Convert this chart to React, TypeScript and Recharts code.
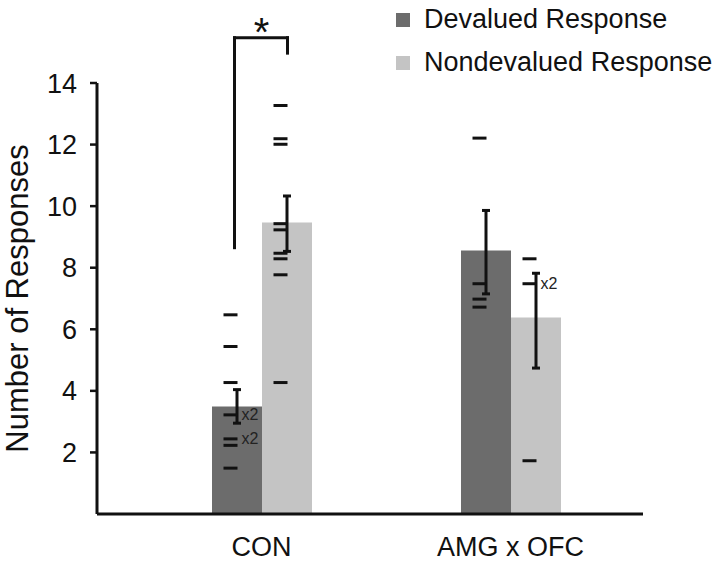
import {
  Bar,
  ComposedChart,
  ErrorBar,
  Legend,
  ReferenceDot,
  ReferenceLine,
  Scatter,
  XAxis,
  YAxis,
} from 'recharts';

const groups = ['CON', 'AMG x OFC'];
const devaluedMean = [3.49, 8.56];
const nondevaluedMean = [9.47, 6.38];
// [below, above] distance of the SEM whiskers
const devaluedSem = [[0.54, 0.55], [1.41, 1.3]];
const nondevaluedSem = [[0.94, 0.86], [1.64, 1.44]];

// individual animals, 'x2' marks two animals with the same count
const devaluedPoints = [
  { group: 'CON', value: 6.47 },
  { group: 'CON', value: 5.44 },
  { group: 'CON', value: 4.27 },
  { group: 'CON', value: 3.22, note: 'x2' },
  { group: 'CON', value: 2.44, note: 'x2' },
  { group: 'CON', value: 2.23 },
  { group: 'CON', value: 1.49 },
  { group: 'AMG x OFC', value: 12.21 },
  { group: 'AMG x OFC', value: 7.48 },
  { group: 'AMG x OFC', value: 6.98 },
  { group: 'AMG x OFC', value: 6.72 },
];
const nondevaluedPoints = [
  { group: 'CON', value: 13.27 },
  { group: 'CON', value: 12.19 },
  { group: 'CON', value: 12.01 },
  { group: 'CON', value: 9.43 },
  { group: 'CON', value: 9.23 },
  { group: 'CON', value: 8.47 },
  { group: 'CON', value: 8.29 },
  { group: 'CON', value: 7.77 },
  { group: 'CON', value: 4.27 },
  { group: 'AMG x OFC', value: 8.29 },
  { group: 'AMG x OFC', value: 7.48, note: 'x2' },
  { group: 'AMG x OFC', value: 1.73 },
];

const yTicks = [2, 4, 6, 8, 10, 12, 14];

// significance bracket between the two CON bars
const bracketGroup = 'CON';
const bracketY = { left: 8.65, right: 14.97, top: 15.47 };

const SERIES = [
  { key: 'devalued', label: 'Devalued Response', color: '#6c6c6c' },
  { key: 'nondevalued', label: 'Nondevalued Response', color: '#c4c4c4' },
];

const chartData = groups.map((group, i) => ({
  group,
  devalued: devaluedMean[i],
  nondevalued: nondevaluedMean[i],
  devaluedSem: devaluedSem[i],
  nondevaluedSem: nondevaluedSem[i],
}));

const INK = '#111';
const FONT = '"Liberation Sans", Arial, sans-serif';

function dashShape(offset: number) {
  return (props: any) => {
    const { cx, cy, payload } = props;
    const x = cx + offset;
    return (
      <g>
        <line x1={x - 13} x2={x + 1} y1={cy} y2={cy} stroke={INK} strokeWidth={3} />
        {payload?.note && (
          <text x={x + 5} y={cy} dy="0.35em" fontSize={16} fill="#222" fontFamily={FONT}>
            {payload.note}
          </text>
        )}
      </g>
    );
  };
}

// shifts a reference segment from the group centre onto the bars
function bracketShape(dx1: number, dx2: number) {
  return (p: any) => (
    <line x1={p.x1 + dx1} y1={p.y1} x2={p.x2 + dx2} y2={p.y2} stroke={INK} strokeWidth={3} strokeLinecap="square" />
  );
}

function LegendBox() {
  return (
    <div style={{ fontFamily: FONT, fontSize: 27, color: INK }}>
      {SERIES.map(s => (
        <div key={s.key} style={{ display: 'flex', alignItems: 'center', height: 43 }}>
          <span style={{ width: 14, height: 14, background: s.color, marginRight: 14, display: 'inline-block' }} />
          <span>{s.label}</span>
        </div>
      ))}
    </div>
  );
}

export default function App() {
  return (
    <div style={{ position: 'absolute', left: 0, top: 0, width: 720, height: 565, background: '#fff', fontFamily: FONT }}>
      <ComposedChart
        width={720}
        height={565}
        data={chartData}
        margin={{ top: 83, right: 77, bottom: 0, left: 0 }}
        barGap={0}
        barSize={50}
      >
        <XAxis
          dataKey="group"
          allowDuplicatedCategory={false}
          interval={0}
          padding={{ left: 40, right: 8 }}
          height={51}
          axisLine={{ stroke: INK, strokeWidth: 3 }}
          tickLine={false}
          tickSize={0}
          tickMargin={23}
          tick={{ fontSize: 27, fill: INK, fontFamily: FONT }}
        />
        <YAxis
          domain={[0, 14]}
          ticks={yTicks}
          width={97}
          axisLine={{ stroke: INK, strokeWidth: 3 }}
          tickLine={{ stroke: INK, strokeWidth: 2.5 }}
          tickSize={7}
          tickMargin={13}
          tick={{ fontSize: 27, fill: INK, fontFamily: FONT }}
          label={{
            value: 'Number of Responses',
            angle: -90,
            position: 'insideLeft',
            offset: 17,
            fontSize: 31,
            fill: INK,
            fontFamily: FONT,
            style: { textAnchor: 'middle' },
          }}
        />
        <Legend
          layout="horizontal"
          align="center"
          verticalAlign="middle"
          content={<LegendBox />}
          wrapperStyle={{ position: 'absolute', left: 396, top: -2, width: 320 }}
        />
        {SERIES.map(s => (
          <Bar key={s.key} dataKey={s.key} name={s.label} fill={s.color} isAnimationActive={false}>
            <ErrorBar dataKey={`${s.key}Sem`} width={4} stroke={INK} strokeWidth={3} direction="y" />
          </Bar>
        ))}
        <Scatter data={devaluedPoints} dataKey="value" shape={dashShape(-25)} legendType="none" isAnimationActive={false} />
        <Scatter data={nondevaluedPoints} dataKey="value" shape={dashShape(25)} legendType="none" isAnimationActive={false} />
        <ReferenceLine
          ifOverflow="visible"
          segment={[{ x: bracketGroup, y: bracketY.left }, { x: bracketGroup, y: bracketY.top }]}
          shape={bracketShape(-27, -27)}
        />
        <ReferenceLine
          ifOverflow="visible"
          segment={[{ x: bracketGroup, y: bracketY.top }, { x: bracketGroup, y: bracketY.top }]}
          shape={bracketShape(-27, 26)}
        />
        <ReferenceLine
          ifOverflow="visible"
          segment={[{ x: bracketGroup, y: bracketY.top }, { x: bracketGroup, y: bracketY.right }]}
          shape={bracketShape(26, 26)}
        />
        <ReferenceDot
          x={bracketGroup}
          y={bracketY.top}
          r={0}
          ifOverflow="visible"
          label={{ value: '*', position: 'top', offset: -8, fontSize: 40, fill: INK, fontFamily: FONT }}
        />
      </ComposedChart>
    </div>
  );
}
